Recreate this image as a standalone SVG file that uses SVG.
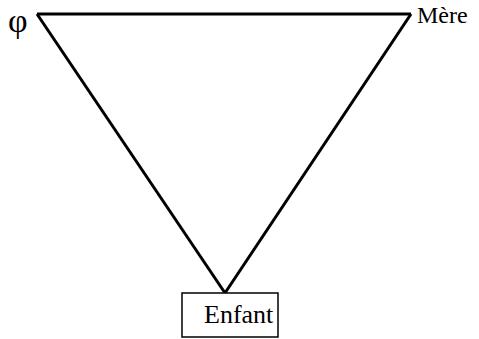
<svg xmlns="http://www.w3.org/2000/svg" width="479" height="339" viewBox="0 0 479 339">
  <style>
    .lbl { font-family: "Liberation Serif", "Times New Roman", serif; fill: #000; }
    .edge { stroke: #000; stroke-width: 3; fill: none; stroke-linejoin: miter; }
    .box { stroke: #000; stroke-width: 1.5; fill: #fff; }
  </style>
  <rect width="479" height="339" fill="#fff"/>
  <g id="connectors">
    <line class="edge" x1="37" y1="14" x2="411" y2="14"/>
    <line class="edge" x1="37" y1="14" x2="225" y2="293"/>
    <line class="edge" x1="411" y1="14" x2="225" y2="293"/>
  </g>
  <g id="phi">
    <text class="lbl" x="8" y="32" font-size="34">φ</text>
  </g>
  <g id="mere">
    <text class="lbl" x="417" y="23" font-size="24">Mère</text>
  </g>
  <g id="enfant">
    <rect class="box" x="182" y="293" width="96" height="44"/>
    <text class="lbl" x="204" y="323" font-size="26">Enfant</text>
  </g>
</svg>
